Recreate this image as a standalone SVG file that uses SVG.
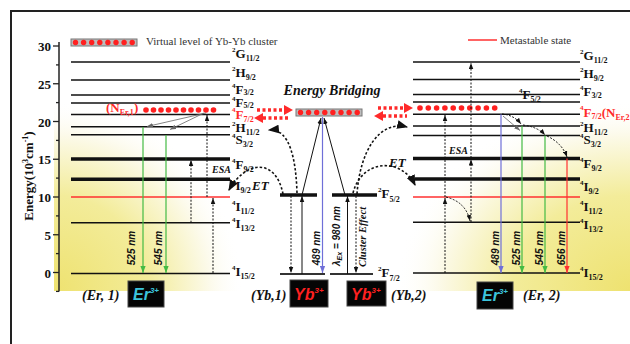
<svg xmlns="http://www.w3.org/2000/svg" width="630" height="344" viewBox="0 0 630 344">
<defs>
<radialGradient id="gl" cx="0" cy="1" r="1" fx="0" fy="1">
<stop offset="0" stop-color="#eee270"/>
<stop offset="0.5" stop-color="#f3ec9a"/>
<stop offset="0.82" stop-color="#fcfaea"/>
<stop offset="1" stop-color="#ffffff" stop-opacity="0"/>
</radialGradient>
<radialGradient id="gr" cx="1" cy="1" r="1" fx="1" fy="1">
<stop offset="0" stop-color="#eee270"/>
<stop offset="0.5" stop-color="#f3ec9a"/>
<stop offset="0.82" stop-color="#fcfaea"/>
<stop offset="1" stop-color="#ffffff" stop-opacity="0"/>
</radialGradient>
<marker id="a" viewBox="0 0 8 6" refX="8" refY="3" markerWidth="6" markerHeight="5" orient="auto" markerUnits="userSpaceOnUse"><path d="M0,0L8,3L0,6z" fill="#111"/></marker>
<marker id="ag" viewBox="0 0 8 6" refX="8" refY="3" markerWidth="7" markerHeight="6" orient="auto" markerUnits="userSpaceOnUse"><path d="M0,0L8,3L0,6z" fill="#44bb44"/></marker>
<marker id="ab" viewBox="0 0 8 6" refX="8" refY="3" markerWidth="7" markerHeight="6" orient="auto" markerUnits="userSpaceOnUse"><path d="M0,0L8,3L0,6z" fill="#6f6fd8"/></marker>
<marker id="ar" viewBox="0 0 8 6" refX="8" refY="3" markerWidth="7" markerHeight="6" orient="auto" markerUnits="userSpaceOnUse"><path d="M0,0L8,3L0,6z" fill="#ff3030"/></marker>
<marker id="ay" viewBox="0 0 8 6" refX="8" refY="3" markerWidth="6" markerHeight="5" orient="auto" markerUnits="userSpaceOnUse"><path d="M0,0L8,3L0,6z" fill="#666"/></marker>
<marker id="ak" viewBox="0 0 10 8" refX="9" refY="4" markerWidth="11" markerHeight="9" orient="auto" markerUnits="userSpaceOnUse"><path d="M0,0L10,4L0,8z" fill="#111"/></marker>
</defs>
<style>
.lv{stroke:#111;stroke-width:1.5}
.tk{stroke:#111;stroke-width:3.5}
.t{font-family:"Liberation Serif","Times New Roman",serif;font-weight:bold;font-size:13px;fill:#111}
.ti{font-family:"Liberation Serif","Times New Roman",serif;font-weight:bold;font-style:italic;fill:#111}
.s{font-size:7px}
.b{font-size:8px}
.rd{fill:#ff2a2a}
.nm{font-family:"Liberation Sans",Arial,sans-serif;font-weight:bold;font-style:italic;font-size:10px;fill:#111}
.dt{stroke:#111;stroke-width:1;stroke-dasharray:2 1.5;fill:none}
.arc{stroke:#111;stroke-width:1.6;stroke-dasharray:2.5 2;fill:none}
.rdl{stroke:#ff2a2a;stroke-width:3.5;stroke-dasharray:3 2.5}
.box{fill:#050505;stroke:#444;stroke-width:1}
.ion{font-family:"Liberation Sans",Arial,sans-serif;font-weight:bold;font-style:italic;font-size:16px}
.leg{font-family:"Liberation Serif","Times New Roman",serif;font-size:11px;fill:#333}
</style>
<rect width="630" height="344" fill="#fff"/>
<rect x="11" y="11" width="640" height="360" fill="none" stroke="#222" stroke-width="2"/>
<rect x="54" y="100" width="190" height="191" fill="url(#gl)"/>
<rect x="395" y="100" width="235" height="191" fill="url(#gr)"/>

<g id="legend">
<rect x="71" y="39" width="66" height="7" fill="#bdbdbd" stroke="#777" stroke-width="1"/>
<g fill="#ff2020"><circle cx="75.5" cy="42.5" r="2.7"/><circle cx="83.6" cy="42.5" r="2.7"/><circle cx="91.7" cy="42.5" r="2.7"/><circle cx="99.8" cy="42.5" r="2.7"/><circle cx="107.9" cy="42.5" r="2.7"/><circle cx="116" cy="42.5" r="2.7"/><circle cx="124.1" cy="42.5" r="2.7"/><circle cx="132.2" cy="42.5" r="2.7"/></g>
<text class="leg" x="146" y="45">Virtual level of Yb-Yb cluster</text>
<line x1="468" y1="40" x2="497" y2="40" stroke="#ff3030" stroke-width="1.5"/>
<text class="leg" x="500" y="44" font-size="10.5">Metastable state</text>
</g>

<g id="axis">
<line x1="59" y1="42" x2="59" y2="291.4" stroke="#222" stroke-width="1.5"/>
<g stroke="#222" stroke-width="1.3">
<line x1="53" y1="46" x2="59" y2="46"/><line x1="53" y1="83.75" x2="59" y2="83.75"/><line x1="53" y1="121.5" x2="59" y2="121.5"/><line x1="53" y1="159.25" x2="59" y2="159.25"/><line x1="53" y1="197" x2="59" y2="197"/><line x1="53" y1="234.75" x2="59" y2="234.75"/><line x1="53" y1="272.5" x2="59" y2="272.5"/>
<line x1="56" y1="64.9" x2="59" y2="64.9"/><line x1="56" y1="102.6" x2="59" y2="102.6"/><line x1="56" y1="140.4" x2="59" y2="140.4"/><line x1="56" y1="178.1" x2="59" y2="178.1"/><line x1="56" y1="215.9" x2="59" y2="215.9"/><line x1="56" y1="253.6" x2="59" y2="253.6"/><line x1="56" y1="291.4" x2="59" y2="291.4"/>
</g>
<g class="t" font-size="14" text-anchor="end">
<text x="51" y="51">30</text><text x="51" y="88.75">25</text><text x="51" y="126.5">20</text><text x="51" y="164.25">15</text><text x="51" y="202">10</text><text x="51" y="239.75">5</text><text x="51" y="277.5">0</text>
</g>
<text class="t" transform="translate(33,176) rotate(-90)" text-anchor="middle">Energy(10<tspan font-size="8" dy="-5">3</tspan><tspan dy="5">cm</tspan><tspan font-size="8" dy="-5">-1</tspan><tspan dy="5">)</tspan></text>
</g>

<g id="er1">
<line class="lv" x1="71" y1="62" x2="230" y2="62"/>
<line class="lv" x1="71" y1="80" x2="230" y2="80"/>
<line class="lv" x1="71" y1="95" x2="230" y2="95"/>
<line class="lv" x1="71" y1="103" x2="230" y2="103"/>
<line class="lv" x1="71" y1="114.5" x2="230" y2="114.5"/>
<line class="lv" x1="71" y1="126.7" x2="230" y2="126.7"/>
<line class="lv" x1="71" y1="134.7" x2="230" y2="134.7"/>
<line class="tk" x1="71" y1="159" x2="230" y2="159"/>
<line class="tk" x1="71" y1="179.3" x2="230" y2="179.3"/>
<line x1="71" y1="197" x2="230" y2="197" stroke="#ff3030" stroke-width="1.3"/>
<line class="lv" x1="71" y1="222.7" x2="230" y2="222.7"/>
<line class="lv" x1="71" y1="273.5" x2="230" y2="273.5"/>
<g fill="#ff2020"><circle cx="146" cy="110" r="2.8"/><circle cx="153.5" cy="110" r="2.8"/><circle cx="161" cy="110" r="2.8"/><circle cx="168.5" cy="110" r="2.8"/><circle cx="176" cy="110" r="2.8"/><circle cx="183.5" cy="110" r="2.8"/><circle cx="191" cy="110" r="2.8"/><circle cx="198.5" cy="110" r="2.8"/><circle cx="206" cy="110" r="2.8"/><circle cx="213.5" cy="110" r="2.8"/></g>
<text class="t rd" x="106" y="112" font-size="14">(N<tspan class="b" dy="3">Er,1</tspan><tspan dy="-3">)</tspan></text>
<text class="t" x="232" y="58"><tspan class="s" dy="-6">2</tspan><tspan dy="6">G</tspan><tspan class="b" dy="3">11/2</tspan></text>
<text class="t" x="232" y="77"><tspan class="s" dy="-6">2</tspan><tspan dy="6">H</tspan><tspan class="b" dy="3">9/2</tspan></text>
<text class="t" x="232" y="94"><tspan class="s" dy="-6">4</tspan><tspan dy="6">F</tspan><tspan class="b" dy="1">3/2</tspan></text>
<text class="t" x="232" y="106.5"><tspan class="s" dy="-6">4</tspan><tspan dy="6">F</tspan><tspan class="b" dy="1">5/2</tspan></text>
<text class="t rd" x="232" y="118.5" font-size="15"><tspan class="s" dy="-7">4</tspan><tspan dy="7">F</tspan><tspan class="b" dy="3">7/2</tspan></text>
<text class="t" x="232" y="131.5"><tspan class="s" dy="-6">2</tspan><tspan dy="6">H</tspan><tspan class="b" dy="3">11/2</tspan></text>
<text class="t" x="232" y="144"><tspan class="s" dy="-6">4</tspan><tspan dy="6">S</tspan><tspan class="b" dy="3">3/2</tspan></text>
<text class="t" x="232" y="169"><tspan class="s" dy="-6">4</tspan><tspan dy="6">F</tspan><tspan class="b" dy="3">9/2</tspan></text>
<text class="t" x="232" y="190"><tspan class="s" dy="-6">4</tspan><tspan dy="6">I</tspan><tspan class="b" dy="3">9/2</tspan></text>
<text class="ti" x="252" y="190" font-size="13">ET</text>
<text class="t" x="232" y="211"><tspan class="s" dy="-6">4</tspan><tspan dy="6">I</tspan><tspan class="b" dy="3">11/2</tspan></text>
<text class="t" x="232" y="228"><tspan class="s" dy="-6">4</tspan><tspan dy="6">I</tspan><tspan class="b" dy="3">13/2</tspan></text>
<text class="t" x="232" y="276"><tspan class="s" dy="-6">4</tspan><tspan dy="6">I</tspan><tspan class="b" dy="3">15/2</tspan></text>
<text class="ti" x="212" y="173" font-size="10" font-weight="normal">ESA</text>
<text class="nm" transform="translate(135,248) rotate(-90)" text-anchor="middle">525 nm</text>
<text class="nm" transform="translate(162,248) rotate(-90)" text-anchor="middle">545 nm</text>
<text class="ti" x="82" y="300" font-size="14">(Er, 1)</text>
<rect class="box" x="128" y="281" width="36" height="26"/>
<text class="ion" x="133" y="300" fill="#3cc4dc">Er<tspan font-size="8" dy="-7">3+</tspan></text>
</g>

<g id="center">
<text class="ti" x="332" y="95" font-size="14" text-anchor="middle">Energy Bridging</text>
<rect x="296" y="109" width="66" height="7" fill="#bdbdbd" stroke="#777" stroke-width="1"/>
<g fill="#ff2020"><circle cx="300.5" cy="112.5" r="2.7"/><circle cx="308.6" cy="112.5" r="2.7"/><circle cx="316.7" cy="112.5" r="2.7"/><circle cx="324.8" cy="112.5" r="2.7"/><circle cx="332.9" cy="112.5" r="2.7"/><circle cx="341" cy="112.5" r="2.7"/><circle cx="349.1" cy="112.5" r="2.7"/><circle cx="357.2" cy="112.5" r="2.7"/></g>
</g>

<g id="yb1">
<line class="tk" x1="280" y1="195" x2="317" y2="195"/>
<line x1="280" y1="274" x2="325" y2="274" stroke="#333" stroke-width="2"/>
<text class="ti" x="251" y="300" font-size="14">(Yb,1)</text>
<rect class="box" x="290" y="280" width="38" height="27"/>
<text class="ion" x="294" y="300" fill="#ff2020">Yb<tspan font-size="8" dy="-7">3+</tspan></text>
</g>

<g id="yb2">
<line class="tk" x1="332" y1="195" x2="377" y2="195"/>
<line x1="330" y1="274" x2="373" y2="274" stroke="#333" stroke-width="2"/>
<text class="t" x="378" y="198"><tspan class="s" dy="-6">2</tspan><tspan dy="6">F</tspan><tspan class="b" dy="4">5/2</tspan></text>
<text class="t" x="378" y="277"><tspan class="s" dy="-6">2</tspan><tspan dy="6">F</tspan><tspan class="b" dy="4">7/2</tspan></text>
<rect class="box" x="347" y="281" width="39" height="25"/>
<text class="ion" x="351" y="300" fill="#ff2020">Yb<tspan font-size="8" dy="-7">3+</tspan></text>
<text class="ti" x="391" y="300" font-size="14">(Yb,2)</text>
</g>

<g id="er2">
<line class="lv" x1="413" y1="62" x2="580" y2="62"/>
<line class="lv" x1="413" y1="79.5" x2="580" y2="79.5"/>
<line class="lv" x1="413" y1="94.5" x2="580" y2="94.5"/>
<line class="lv" x1="413" y1="102" x2="580" y2="102"/>
<line class="lv" x1="413" y1="114.3" x2="580" y2="114.3"/>
<line class="lv" x1="413" y1="126" x2="580" y2="126"/>
<line class="lv" x1="413" y1="135.5" x2="580" y2="135.5"/>
<line class="tk" x1="413" y1="158.5" x2="580" y2="158.5"/>
<line class="tk" x1="415" y1="179" x2="580" y2="179"/>
<line x1="413" y1="197" x2="580" y2="197" stroke="#ff3030" stroke-width="1.3"/>
<line class="lv" x1="413" y1="222.3" x2="580" y2="222.3"/>
<line class="lv" x1="413" y1="273" x2="580" y2="273"/>
<g fill="#ff2020"><circle cx="420" cy="108" r="2.8"/><circle cx="428.3" cy="108" r="2.8"/><circle cx="436.6" cy="108" r="2.8"/><circle cx="444.9" cy="108" r="2.8"/><circle cx="453.2" cy="108" r="2.8"/><circle cx="461.5" cy="108" r="2.8"/><circle cx="469.8" cy="108" r="2.8"/><circle cx="478.1" cy="108" r="2.8"/><circle cx="486.4" cy="108" r="2.8"/><circle cx="494.7" cy="108" r="2.8"/></g>
<text class="t" x="580" y="60"><tspan class="s" dy="-6">2</tspan><tspan dy="6">G</tspan><tspan class="b" dy="3">11/2</tspan></text>
<text class="t" x="580" y="78"><tspan class="s" dy="-6">2</tspan><tspan dy="6">H</tspan><tspan class="b" dy="3">9/2</tspan></text>
<text class="t" x="580" y="96"><tspan class="s" dy="-6">4</tspan><tspan dy="6">F</tspan><tspan class="b" dy="2">3/2</tspan></text>
<text class="t" x="519" y="99"><tspan class="s" dy="-6">4</tspan><tspan dy="6">F</tspan><tspan class="b" dy="3">5/2</tspan></text>
<text class="t rd" x="580" y="117" font-size="14"><tspan class="s" dy="-7">4</tspan><tspan dy="7">F</tspan><tspan class="b" dy="2">7/2</tspan><tspan dy="-2">(N</tspan><tspan class="b" dy="3">Er,2</tspan></text>
<text class="t" x="580" y="132"><tspan class="s" dy="-6">2</tspan><tspan dy="6">H</tspan><tspan class="b" dy="3">11/2</tspan></text>
<text class="t" x="580" y="144"><tspan class="s" dy="-6">4</tspan><tspan dy="6">S</tspan><tspan class="b" dy="3">3/2</tspan></text>
<text class="t" x="580" y="168"><tspan class="s" dy="-6">4</tspan><tspan dy="6">F</tspan><tspan class="b" dy="3">9/2</tspan></text>
<text class="t" x="580" y="191"><tspan class="s" dy="-6">4</tspan><tspan dy="6">I</tspan><tspan class="b" dy="3">9/2</tspan></text>
<text class="t" x="580" y="211"><tspan class="s" dy="-6">4</tspan><tspan dy="6">I</tspan><tspan class="b" dy="3">11/2</tspan></text>
<text class="t" x="580" y="229"><tspan class="s" dy="-6">4</tspan><tspan dy="6">I</tspan><tspan class="b" dy="3">13/2</tspan></text>
<text class="t" x="580" y="277"><tspan class="s" dy="-6">4</tspan><tspan dy="6">I</tspan><tspan class="b" dy="3">15/2</tspan></text>
<text class="ti" x="449" y="154" font-size="10" font-weight="normal">ESA</text>
<text class="ti" x="389" y="167" font-size="13">ET</text>
<text class="nm" transform="translate(499,248) rotate(-90)" text-anchor="middle">489 nm</text>
<text class="nm" transform="translate(520,248) rotate(-90)" text-anchor="middle">525 nm</text>
<text class="nm" transform="translate(543,248) rotate(-90)" text-anchor="middle">545 nm</text>
<text class="nm" transform="translate(565,248) rotate(-90)" text-anchor="middle">656 nm</text>
<rect class="box" x="477" y="282" width="36" height="27"/>
<text class="ion" x="482" y="301" fill="#3cc4dc">Er<tspan font-size="8" dy="-7">3+</tspan></text>
<text class="ti" x="523" y="300" font-size="14">(Er, 2)</text>
</g>

<g id="connectors">
<line x1="143" y1="127" x2="143" y2="273" stroke="#44bb44" stroke-width="1.2" marker-end="url(#ag)"/>
<line x1="166" y1="135" x2="166" y2="273" stroke="#44bb44" stroke-width="1.2" marker-end="url(#ag)"/>
<line x1="206" y1="113" x2="147" y2="126.5" stroke="#666" stroke-width="0.8" marker-end="url(#ay)"/>
<line x1="204" y1="113" x2="170" y2="129.5" stroke="#666" stroke-width="0.8" marker-end="url(#ay)"/>
<line class="dt" x1="213" y1="273" x2="213" y2="198" marker-end="url(#a)"/>
<line class="dt" x1="207" y1="197" x2="207" y2="115" marker-end="url(#a)"/>
<line class="dt" x1="191" y1="222.7" x2="191" y2="160" marker-end="url(#a)"/>
<line class="rdl" x1="257" y1="110" x2="284" y2="110"/><polygon points="284,105 293,110 284,115" fill="#ff2a2a"/>
<line class="rdl" x1="263" y1="118" x2="288" y2="118"/><polygon points="263,113 254,118 263,123" fill="#ff2a2a"/>
<line class="rdl" x1="378" y1="108" x2="404" y2="108"/><polygon points="404,103 413,108 404,113" fill="#ff2a2a"/>
<line class="rdl" x1="383" y1="116" x2="407" y2="116"/><polygon points="383,111 374,116 383,121" fill="#ff2a2a"/>
<line class="dt" x1="291" y1="196" x2="291" y2="273" marker-end="url(#a)"/>
<line x1="302" y1="274" x2="302" y2="196" stroke="#111" stroke-width="1" marker-end="url(#a)"/>
<line x1="322.5" y1="117" x2="322.5" y2="273" stroke="#6f6fd8" stroke-width="1.2" marker-end="url(#ab)"/>
<line x1="347.5" y1="274" x2="347.5" y2="196" stroke="#111" stroke-width="1" marker-end="url(#a)"/>
<line class="dt" x1="356" y1="196" x2="356" y2="273" marker-end="url(#a)"/>
<line x1="302" y1="195" x2="321" y2="118" stroke="#111" stroke-width="1" marker-end="url(#a)"/>
<line x1="345" y1="195" x2="324" y2="118" stroke="#111" stroke-width="1" marker-end="url(#a)"/>
<text class="nm" transform="translate(320,248) rotate(-90)" text-anchor="middle">489 nm</text>
<text class="nm" transform="translate(340,236) rotate(-90)" text-anchor="middle">λ<tspan font-size="7" dy="2">Ex</tspan><tspan dy="-2"> = 980 nm</tspan></text>
<text class="ti" transform="translate(366,237) rotate(-90)" text-anchor="middle" font-size="10.5" font-weight="normal">Cluster Effect</text>
<path class="arc" d="M283,194 C276,158 246,160 229,190" marker-end="url(#ak)"/>
<path class="arc" d="M297,193 C296,160 290,128 269,130" marker-end="url(#ak)"/>
<path class="arc" d="M357,194 C360,150 380,120 407,127" marker-end="url(#ak)"/>
<path class="arc" d="M353,193 C362,158 402,158 415,185" marker-end="url(#ak)"/>
<line class="dt" x1="445" y1="273" x2="445" y2="198" marker-end="url(#a)"/>
<line class="dt" x1="445" y1="197" x2="445" y2="115" marker-end="url(#a)"/>
<line class="dt" x1="471" y1="222" x2="471" y2="159.5" marker-end="url(#a)"/>
<line class="dt" x1="471" y1="158" x2="471" y2="63" marker-end="url(#a)"/>
<path class="dt" d="M446,197 Q466,202 470,221" marker-end="url(#a)"/>
<line x1="501" y1="114.3" x2="501" y2="273" stroke="#6f6fd8" stroke-width="1.2" marker-end="url(#ab)"/>
<line x1="522" y1="126" x2="522" y2="273" stroke="#44bb44" stroke-width="1.2" marker-end="url(#ag)"/>
<line x1="545" y1="135.5" x2="545" y2="273" stroke="#44bb44" stroke-width="1.2" marker-end="url(#ag)"/>
<line x1="567" y1="158.5" x2="567" y2="273" stroke="#ff3030" stroke-width="1.2" marker-end="url(#ar)"/>
<path class="dt" d="M502,114 Q514,115 521,124" marker-end="url(#a)"/>
<path class="dt" d="M523,125 Q538,127 545,135" marker-end="url(#a)"/>
<path class="dt" d="M547,136 Q562,143 567,157" marker-end="url(#a)"/>
<line x1="503" y1="116" x2="520" y2="130.5" stroke="#666" stroke-width="0.8" marker-end="url(#ay)"/>
</g>
</svg>
